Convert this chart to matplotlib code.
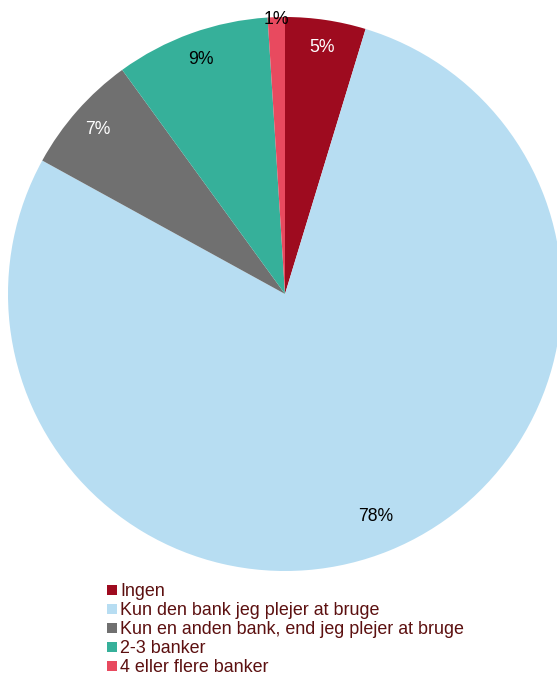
import matplotlib
matplotlib.use("Agg")
import matplotlib.pyplot as plt
from matplotlib.lines import Line2D

categories = [
    "Ingen",
    "Kun den bank jeg plejer at bruge",
    "Kun en anden bank, end jeg plejer at bruge",
    "2-3 banker",
    "4 eller flere banker",
]
shares = [4.7, 78.3, 7.0, 9.0, 1.0]
colors = ["#9E0B1F", "#B7DDF2", "#707070", "#36B09A", "#E84A5F"]
label_colors = ["white", "black", "white", "black", "black"]

plt.rcParams["font.family"] = ["Liberation Sans", "DejaVu Sans"]

W, H = 557, 674
fig = plt.figure(figsize=(W / 100, H / 100), dpi=100)

cx, cy, r = 285, 294, 277
ax = fig.add_axes([(cx - r) / W, (H - cy - r) / H, 2 * r / W, 2 * r / H])

wedges, texts, autotexts = ax.pie(
    shares,
    colors=colors,
    startangle=90,
    counterclock=False,
    radius=1.0,
    autopct="%.0f%%",
    pctdistance=0.9,
    wedgeprops=dict(linewidth=0),
    textprops=dict(fontsize=12.7),
)
ax.set_xlim(-1, 1)
ax.set_ylim(-1, 1)
ax.set_aspect("equal")
ax.axis("off")

for t, c in zip(autotexts, label_colors):
    t.set_color(c)
# small slice label sits out on the rim, large one a bit inward
for i, k in ((4, 1.1), (1, 0.965)):
    x, y = autotexts[i].get_position()
    autotexts[i].set_position((x * k, y * k))

handles = [
    Line2D([0], [0], marker="s", linestyle="none", markersize=7.5,
           markerfacecolor=c, markeredgewidth=0)
    for c in colors
]
fig.legend(
    handles, categories,
    loc="upper left",
    bbox_to_anchor=(98 / W, 1 - 574 / H),
    frameon=False,
    fontsize=12.9,
    handlelength=0.55,
    handletextpad=0.2,
    labelspacing=0.11,
    borderpad=0,
    labelcolor="#5C1010",
)

fig.savefig("out.png", dpi=100)
